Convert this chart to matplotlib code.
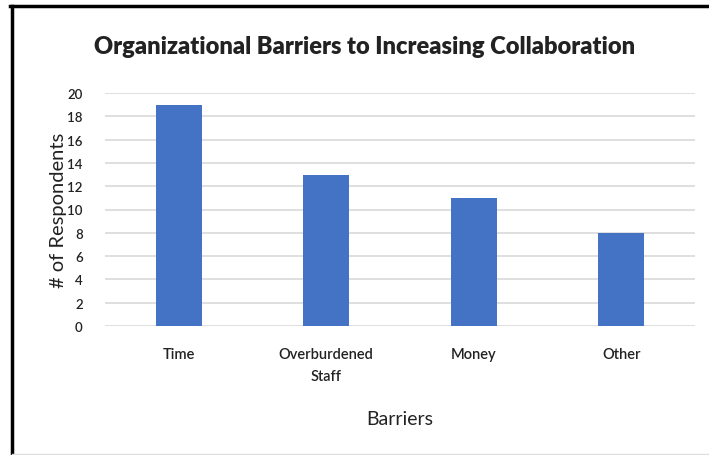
import matplotlib
matplotlib.use("Agg")
import matplotlib.pyplot as plt
from matplotlib.lines import Line2D

categories = ["Time", "Overburdened\nStaff", "Money", "Other"]
respondents = [19, 13, 11, 8]
y_ticks = list(range(0, 21, 2))

plt.rcParams["font.family"] = ["Lato", "DejaVu Sans"]

W, H = 709, 456
fig = plt.figure(figsize=(W / 100, H / 100), dpi=100)
ax = fig.add_axes([105 / W, 1 - 327 / H, 590 / W, 233 / H])

x = range(len(categories))
ax.bar(x, respondents, width=0.31, color="#4472C4", zorder=3)
ax.set_xlim(-0.5, len(categories) - 0.5)
ax.set_ylim(0, 20)
ax.set_yticks(y_ticks)
ax.set_xticks(list(x))
ax.set_xticklabels(categories, fontsize=10.5, color="#222222", va="top",
                   linespacing=1.7, fontweight="semibold")
ax.tick_params(axis="y", labelsize=9.5, length=0, pad=16, labelcolor="#222222")
ax.tick_params(axis="x", length=0, pad=15)
for lab in ax.get_yticklabels():
    lab.set_horizontalalignment("right")
    lab.set_fontweight("semibold")
ax.grid(axis="y", color="#d9d9d9", linewidth=1.2, zorder=0)
for s in ax.spines.values():
    s.set_visible(False)

ax.set_ylabel("# of Respondents", fontsize=14.5, color="#222222", labelpad=0)
ax.set_xlabel("Barriers", fontsize=14, color="#222222", labelpad=20)
fig.text(365 / W, 1 - 47 / H, "Organizational Barriers to Increasing Collaboration",
         ha="center", va="center", fontsize=17, fontweight="heavy", color="#222222")

# frame around the chart
fig.add_artist(Line2D([10 / W, 1], [1 - 7 / H] * 2, color="black", linewidth=2.5, transform=fig.transFigure))
fig.add_artist(Line2D([11.5 / W] * 2, [0, 1 - 7 / H], color="black", linewidth=2.5, transform=fig.transFigure))
fig.add_artist(Line2D([12 / W, 1], [1 - 455 / H] * 2, color="#dddddd", linewidth=1, transform=fig.transFigure))

fig.savefig("out.png", dpi=100)
